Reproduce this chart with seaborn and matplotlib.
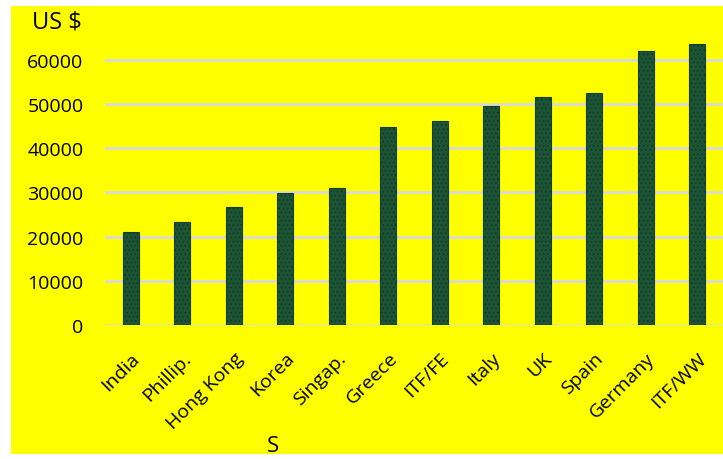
import matplotlib
matplotlib.use("Agg")
import matplotlib.pyplot as plt
import seaborn as sns
import pandas as pd
from matplotlib.patches import Rectangle

countries = ["India", "Phillip.", "Hong Kong", "Korea", "Singap.", "Greece",
             "ITF/FE", "Italy", "UK", "Spain", "Germany", "ITF/WW"]
values = [21000, 23400, 26700, 29800, 30900, 44800,
          46200, 49600, 51600, 52600, 61900, 63500]
yticks = [0, 10000, 20000, 30000, 40000, 50000, 60000]

df = pd.DataFrame({"country": countries, "usd": values})

sns.set_theme(style="white")
plt.rcParams["font.family"] = ["Open Sans", "DejaVu Sans"]
plt.rcParams["hatch.color"] = "#3f8059"
plt.rcParams["hatch.linewidth"] = 0.8

fig = plt.figure(figsize=(7.23, 4.60), dpi=100, facecolor="white")
fig.patches.append(Rectangle((11/723, 1-455/460), 712/723, 448/460,
                             transform=fig.transFigure, facecolor="#FFFF00",
                             edgecolor="none", zorder=-10))
ax = fig.add_axes([105/723, 1-326/460, 618/723, (326-38.7)/460])
ax.set_facecolor("none")

sns.barplot(data=df, x="country", y="usd", ax=ax, color="#1d5436",
            width=0.31, saturation=1, edgecolor="#123d25", linewidth=0.8,
            zorder=3)
for p in ax.patches:
    p.set_hatch("....")

ax.set_ylim(0, 65000)
ax.set_xlim(-0.5, 11.5)
ax.set_yticks(yticks)
ax.set_yticklabels([str(v) for v in yticks], fontsize=14, color="black")
ax.yaxis.grid(True, color="#d9d9d9", linewidth=2)
ax.set_axisbelow(True)
for s in ax.spines.values():
    s.set_visible(False)
ax.tick_params(axis="y", length=0, pad=15.5)
ax.tick_params(axis="x", length=0, pad=17)
ax.set_xticks(range(len(countries)))
ax.set_xticklabels(countries, rotation=45, ha="right", rotation_mode="anchor",
                   fontsize=14, color="black")
ax.set_xlabel("")
ax.set_ylabel("")

fig.text(57/723, 1-22/460, "US $", fontsize=17, ha="center", va="center",
         color="black")
fig.text(273/723, 1-447/460, "S", fontsize=16, ha="center", va="center",
         color="black")

fig.savefig("out.png", dpi=100, facecolor="white")
